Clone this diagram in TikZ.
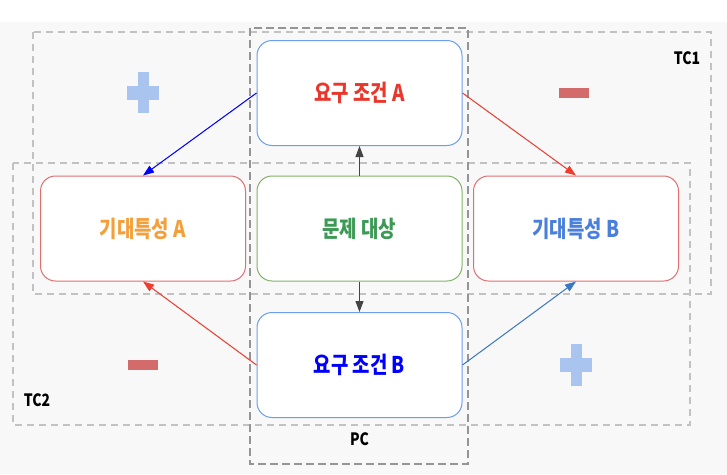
\documentclass[tikz,border=0pt]{standalone}
\usepackage{fontspec}
\setmainfont{Noto Sans CJK KR}[FakeStretch=0.82]
\usetikzlibrary{arrows.meta}
\definecolor{bgc}{HTML}{F8F8F8}
\definecolor{tcdash}{HTML}{C2C2C2}
\definecolor{pcdash}{HTML}{959595}
\definecolor{bluebd}{HTML}{6D9EEB}
\definecolor{redbd}{HTML}{E07070}
\definecolor{greenbd}{HTML}{82B366}
\definecolor{txtred}{HTML}{E8372C}
\definecolor{txtorange}{HTML}{F4A03A}
\definecolor{txtgreen}{HTML}{3D9A55}
\definecolor{txtblueB}{HTML}{4A7FDB}
\definecolor{txtblue}{HTML}{0000FF}
\definecolor{arrred}{HTML}{F03C2E}
\definecolor{arrsteel}{HTML}{3B78C2}
\definecolor{arrgray}{HTML}{444444}
\definecolor{plusc}{HTML}{A9C4EE}
\definecolor{minusc}{HTML}{D46B6B}
\tikzset{
  box/.style={draw, line width=1pt, fill=white, rounded corners=15pt,
    minimum width=205pt, minimum height=105pt, inner sep=0pt,
    font=\fontsize{23}{25}\selectfont\bfseries},
  tcbox/.style={draw=tcdash, line width=2.2pt, dash pattern=on 7pt off 5pt},
  pcbox/.style={draw=pcdash, line width=2.6pt, dash pattern=on 8pt off 4pt},
  lbl/.style={font=\fontsize{17}{19}\selectfont\bfseries, text=black, inner sep=0pt},
  conn/.style={line width=1pt, -{Triangle[length=11pt,width=8pt]}},
}
\begin{document}
\begin{tikzpicture}[x=1pt,y=-1pt]
\useasboundingbox (0,0) rectangle (727,474);
\fill[bgc] (0,22) rectangle (727,474);
% dashed regions
\draw[tcbox] (33,32) rectangle (711,294);
\draw[tcbox] (13,163) rectangle (690,425);
\draw[pcbox] (250,28) rectangle (468,464);
% plus / minus marks
\fill[plusc] (138,72) rectangle (149,113);
\fill[plusc] (127,86) rectangle (159,100);
\fill[plusc] (571,344) rectangle (582,386);
\fill[plusc] (560,358) rectangle (592,372);
\fill[minusc] (559,88) rectangle (589,98);
\fill[minusc] (128,360) rectangle (158,370);
% nodes
\node[box, draw=bluebd, text=txtred] (reqA) at (359.5,93) {요구 조건 A};
\node[box, draw=redbd, text=txtorange] (expA) at (143,228.5) {기대특성 A};
\node[box, draw=greenbd, text=txtgreen] (prob) at (359.5,228.5) {문제 대상};
\node[box, draw=redbd, text=txtblueB] (expB) at (576,228.5) {기대특성 B};
\node[box, draw=bluebd, text=txtblue] (reqB) at (359.5,365) {요구 조건 B};
% labels
\node[lbl] (tc1) at (687,58) {TC1};
\node[lbl] (tc2) at (37,400) {TC2};
\node[lbl] (pc) at (359.5,439) {PC};
% connectors
\draw[conn, draw=txtblue, fill=txtblue] (reqA.west) -- (expA.north);
\draw[conn, draw=arrred, fill=arrred] (reqA.east) -- (expB.north);
\draw[conn, draw=arrred, fill=arrred] (reqB.west) -- (expA.south);
\draw[conn, draw=arrsteel, fill=arrsteel] (reqB.east) -- (expB.south);
\draw[conn, draw=arrgray, fill=arrgray] (prob.north) -- (reqA.south);
\draw[conn, draw=arrgray, fill=arrgray] (prob.south) -- (reqB.north);
\end{tikzpicture}
\end{document}
